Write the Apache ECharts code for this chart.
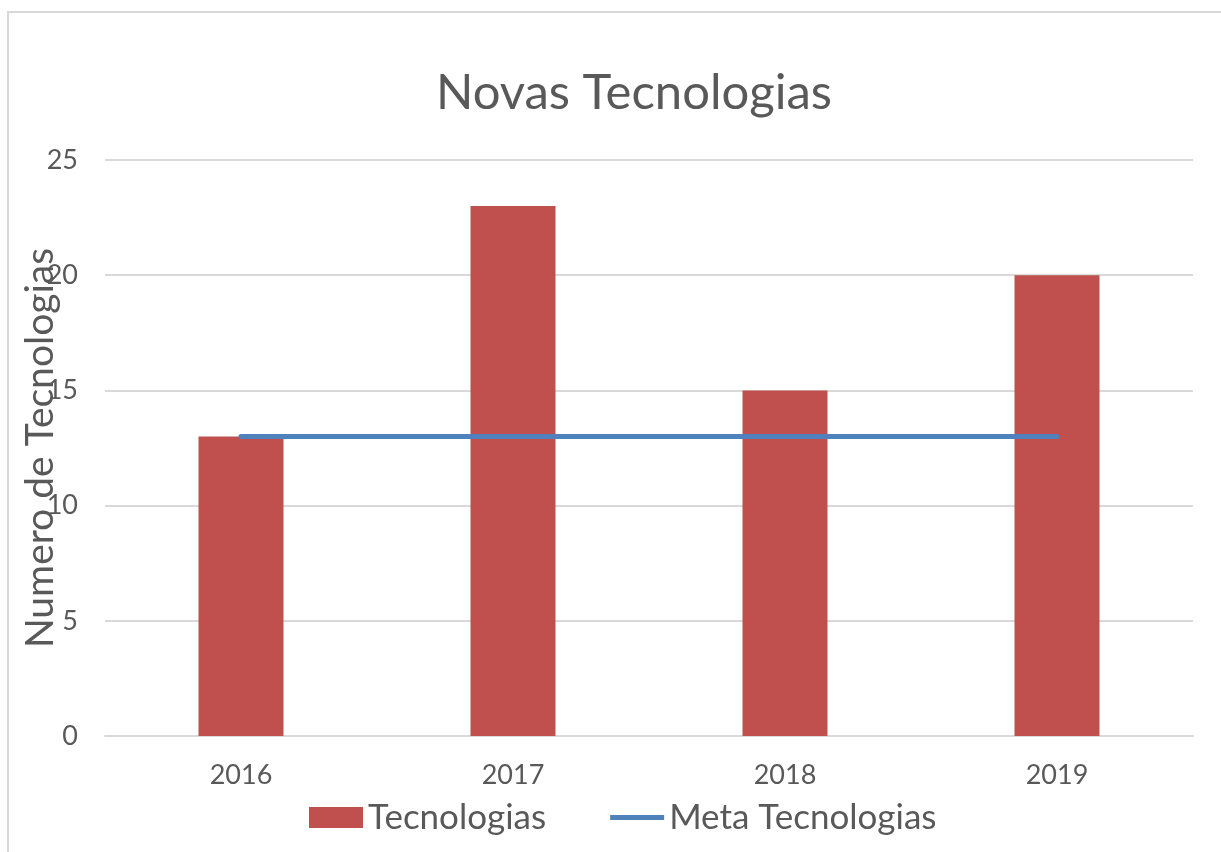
<!DOCTYPE html>
<html><head><meta charset="utf-8">
<script src="https://cdn.jsdelivr.net/npm/echarts@6/dist/echarts.min.js"></script>
<style>html,body{margin:0;padding:0;background:#fff}#c{width:1221px;height:852px}</style>
</head><body><div id="c"></div>
<script>
const categories = ['2016', '2017', '2018', '2019'];
const tecnologias = [13, 23, 15, 20];
const metaTecnologias = [13, 13, 13, 13];
const yTicks = { min: 0, max: 25, interval: 5 };

const chart = echarts.init(document.getElementById('c'));
const font = 'Lato, "Open Sans", sans-serif';
chart.setOption({
  animation: false,
  backgroundColor: '#fff',
  graphic: [{ type: 'rect', shape: { x: 8, y: 12, width: 1400, height: 1000 }, style: { fill: 'none', stroke: '#d9d9d9', lineWidth: 2 }, silent: true, z: -1 }],
  title: { text: 'Novas Tecnologias', left: 431, top: 64, textStyle: { fontFamily: font, fontSize: 49, fontWeight: 'normal', color: '#595959' } },
  grid: { left: 105, right: 28, top: 160, bottom: 116, outerBoundsMode: 'none', containLabel: false },
  legend: {
    bottom: 12, left: 304, itemGap: 64, itemWidth: 54, itemHeight: 21,
    textStyle: { fontFamily: font, fontSize: 35, color: '#595959' },
    data: [
      { name: 'Tecnologias', icon: 'rect' },
      { name: 'Meta Tecnologias', icon: 'path://M0,0H54V5H0Z', itemStyle: { color: '#4f81bd' } }
    ]
  },
  xAxis: {
    type: 'category', data: categories,
    axisLine: { lineStyle: { color: '#d9d9d9', width: 2 } }, axisTick: { show: false },
    axisLabel: { fontFamily: font, fontSize: 27, color: '#595959', margin: 26 }
  },
  yAxis: {
    type: 'value', min: yTicks.min, max: yTicks.max, interval: yTicks.interval,
    name: 'Numero de Tecnologias', nameLocation: 'middle', nameGap: 45, nameMoveOverlap: false,
    nameTextStyle: { fontFamily: font, fontSize: 39, color: '#595959' },
    axisLine: { show: false }, axisTick: { show: false },
    splitLine: { lineStyle: { color: '#d9d9d9', width: 2 } },
    axisLabel: { fontFamily: font, fontSize: 27, color: '#595959', margin: 27 }
  },
  series: [
    { name: 'Tecnologias', type: 'bar', data: tecnologias, barWidth: 85, itemStyle: { color: '#c0504d' } },
    { name: 'Meta Tecnologias', type: 'line', data: metaTecnologias, symbol: 'none', lineStyle: { color: '#4f81bd', width: 5, cap: 'round' }, itemStyle: { color: '#4f81bd' } }
  ]
});
</script></body></html>
